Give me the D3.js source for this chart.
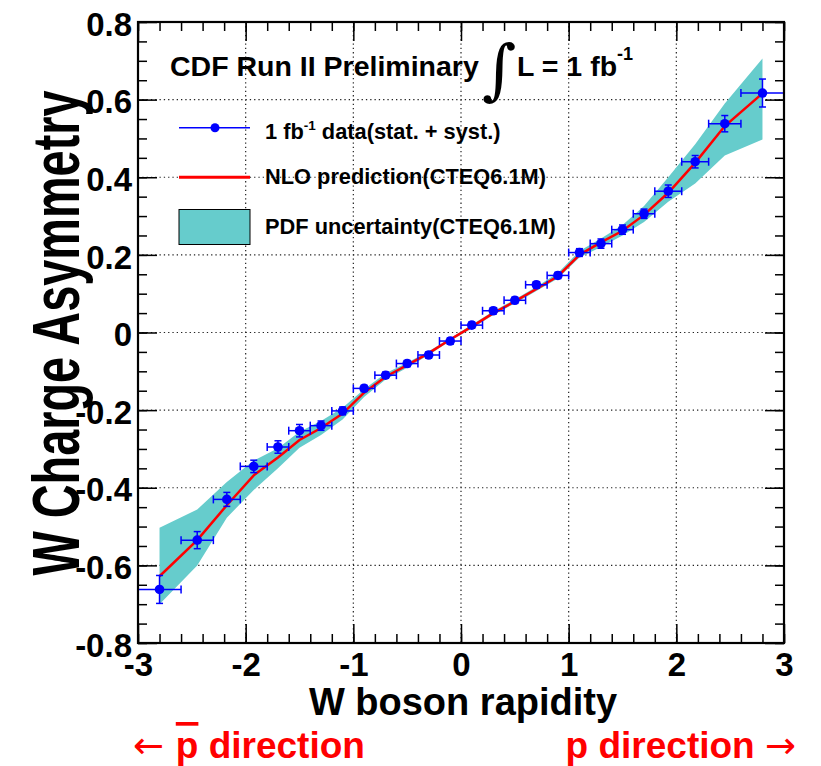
<!DOCTYPE html>
<html>
<head>
<meta charset="utf-8">
<script src="https://d3js.org/d3.v7.min.js"></script>
<style>
  body { margin: 0; background: #fff; }
  svg text { font-family: "Liberation Sans", Arial, sans-serif; font-weight: bold; }
</style>
</head>
<body>
<svg id="chart" width="821" height="766"></svg>
<script>
// bin centres and half widths (W rapidity)
var binCenter = [-2.8, -2.45, -2.175, -1.925, -1.7, -1.5, -1.3, -1.1, -0.9, -0.7, -0.5, -0.3, -0.1,
                 0.1, 0.3, 0.5, 0.7, 0.9, 1.1, 1.3, 1.5, 1.7, 1.925, 2.175, 2.45, 2.8];
var binHalf = [0.2, 0.15, 0.125, 0.125, 0.1, 0.1, 0.1, 0.1, 0.1, 0.1, 0.1, 0.1, 0.1,
               0.1, 0.1, 0.1, 0.1, 0.1, 0.1, 0.1, 0.1, 0.1, 0.125, 0.125, 0.15, 0.2];
// measured asymmetry and error
var dataAsym = [-0.662, -0.535, -0.430, -0.345, -0.295, -0.253, -0.240, -0.202, -0.144, -0.110, -0.080, -0.058, -0.022,
                0.019, 0.056, 0.083, 0.123, 0.147, 0.206, 0.229, 0.265, 0.306, 0.364, 0.440, 0.538, 0.617];
var dataErr = [0.036, 0.022, 0.018, 0.016, 0.016, 0.016, 0.012, 0.010, 0.008, 0.008, 0.008, 0.008, 0.008,
               0.008, 0.008, 0.008, 0.008, 0.008, 0.010, 0.012, 0.012, 0.012, 0.016, 0.016, 0.021, 0.036];
// NLO prediction and PDF band
var nloPred = [-0.628, -0.535, -0.445, -0.368, -0.322, -0.277, -0.246, -0.209, -0.155, -0.114, -0.084, -0.053, -0.018,
               0.015, 0.050, 0.080, 0.112, 0.145, 0.200, 0.232, 0.262, 0.303, 0.360, 0.437, 0.532, 0.616];
var pdfUp = [-0.503, -0.456, -0.385, -0.330, -0.298, -0.256, -0.228, -0.194, -0.146, -0.105, -0.078, -0.048, -0.015,
             0.020, 0.055, 0.085, 0.118, 0.153, 0.210, 0.242, 0.277, 0.326, 0.400, 0.485, 0.590, 0.706];
var pdfLow = [-0.700, -0.600, -0.477, -0.406, -0.350, -0.297, -0.264, -0.224, -0.166, -0.121, -0.091, -0.058, -0.022,
              0.010, 0.045, 0.075, 0.107, 0.139, 0.193, 0.220, 0.250, 0.285, 0.337, 0.384, 0.456, 0.497];

var xMajor = [-3, -2, -1, 0, 1, 2, 3];
var yMajor = [-0.8, -0.6, -0.4, -0.2, 0, 0.2, 0.4, 0.6, 0.8];

var L = 138, R = 784, T = 22, B = 643;
var svg = d3.select('#chart');

var x = d3.scaleLinear().domain([-3, 3]).range([L, R]);
var y = d3.scaleLinear().domain([-0.8, 0.8]).range([B, T]);

var xMinor = d3.range(-3, 3.001, 0.2).map(function(d){ return +d.toFixed(2); });
var yMinor = d3.range(-0.8, 0.8001, 0.05).map(function(d){ return +d.toFixed(3); });

var fmtY = function(d){ return d === 0 ? '0' : d.toFixed(1); };
var fmtX = function(d){ return String(d); };

// dotted grid
var gridX = [-2, -1, 0, 1, 2], gridY = [-0.6, -0.4, -0.2, 0, 0.2, 0.4, 0.6];
svg.append('g').selectAll('line').data(gridX).enter().append('line')
  .attr('x1', function(d){ return x(d); }).attr('x2', function(d){ return x(d); })
  .attr('y1', T).attr('y2', B)
  .attr('stroke', '#222').attr('stroke-width', 1.2).attr('stroke-dasharray', '1.3,3');
svg.append('g').selectAll('line').data(gridY).enter().append('line')
  .attr('y1', function(d){ return y(d); }).attr('y2', function(d){ return y(d); })
  .attr('x1', L).attr('x2', R)
  .attr('stroke', '#222').attr('stroke-width', 1.2).attr('stroke-dasharray', '1.3,3');

var idx = d3.range(binCenter.length);

// PDF band
var band = d3.area()
  .x(function(i){ return x(binCenter[i]); })
  .y0(function(i){ return y(pdfLow[i]); })
  .y1(function(i){ return y(pdfUp[i]); });
svg.append('path').datum(idx).attr('d', band).attr('fill', '#66cccc');

// NLO line
var line = d3.line()
  .x(function(i){ return x(binCenter[i]); })
  .y(function(i){ return y(nloPred[i]); });
svg.append('path').datum(idx).attr('d', line)
  .attr('fill', 'none').attr('stroke', '#ff0000').attr('stroke-width', 2.5);

// data with error bars
var pts = svg.append('g').selectAll('g').data(idx).enter().append('g')
  .attr('stroke', '#0000ff').attr('stroke-width', 1.5);
pts.append('line')
  .attr('x1', function(i){ return x(binCenter[i] - binHalf[i]); })
  .attr('x2', function(i){ return x(binCenter[i] + binHalf[i]); })
  .attr('y1', function(i){ return y(dataAsym[i]); })
  .attr('y2', function(i){ return y(dataAsym[i]); });
pts.append('line')
  .attr('x1', function(i){ return x(binCenter[i]); })
  .attr('x2', function(i){ return x(binCenter[i]); })
  .attr('y1', function(i){ return y(dataAsym[i] - dataErr[i]); })
  .attr('y2', function(i){ return y(dataAsym[i] + dataErr[i]); });
[-1, 1].forEach(function(s){
  pts.append('line')
    .attr('x1', function(i){ return x(binCenter[i] + s * binHalf[i]); })
    .attr('x2', function(i){ return x(binCenter[i] + s * binHalf[i]); })
    .attr('y1', function(i){ return y(dataAsym[i]) - 4; })
    .attr('y2', function(i){ return y(dataAsym[i]) + 4; });
  pts.append('line')
    .attr('x1', function(i){ return x(binCenter[i]) - 3.5; })
    .attr('x2', function(i){ return x(binCenter[i]) + 3.5; })
    .attr('y1', function(i){ return y(dataAsym[i] + s * dataErr[i]); })
    .attr('y2', function(i){ return y(dataAsym[i] + s * dataErr[i]); });
});
pts.append('circle')
  .attr('cx', function(i){ return x(binCenter[i]); })
  .attr('cy', function(i){ return y(dataAsym[i]); })
  .attr('r', 4.8).attr('fill', '#0000ff').attr('stroke', 'none');

// axes, ticks inside (ROOT style)
function styleAxis(g) {
  g.select('.domain').remove();
  g.selectAll('.tick line').attr('stroke', '#000').attr('stroke-width', 1.5);
  g.selectAll('.tick text').attr('fill', '#000')
    .style('font-family', '"Liberation Sans", Arial, sans-serif').style('font-weight', 'bold');
}
svg.append('g').attr('transform', 'translate(0,' + B + ')')
  .call(d3.axisBottom(x).tickValues(xMinor).tickSize(-9).tickFormat(''))
  .call(styleAxis);
svg.append('g').attr('transform', 'translate(0,' + B + ')')
  .call(d3.axisBottom(x).tickValues(xMajor).tickSize(-19).tickPadding(9).tickFormat(fmtX))
  .call(styleAxis)
  .selectAll('text').attr('font-size', 33).attr('dy', '0.72em');
svg.append('g').attr('transform', 'translate(0,' + T + ')')
  .call(d3.axisTop(x).tickValues(xMinor).tickSize(-9).tickFormat(''))
  .call(styleAxis);
svg.append('g').attr('transform', 'translate(0,' + T + ')')
  .call(d3.axisTop(x).tickValues(xMajor).tickSize(-19).tickFormat(''))
  .call(styleAxis);
svg.append('g').attr('transform', 'translate(' + L + ',0)')
  .call(d3.axisLeft(y).tickValues(yMinor).tickSize(-9).tickFormat(''))
  .call(styleAxis);
svg.append('g').attr('transform', 'translate(' + L + ',0)')
  .call(d3.axisLeft(y).tickValues(yMajor).tickSize(-19).tickPadding(6).tickFormat(fmtY))
  .call(styleAxis)
  .selectAll('text').attr('font-size', 33).attr('dy', '0.4em');
svg.append('g').attr('transform', 'translate(' + R + ',0)')
  .call(d3.axisRight(y).tickValues(yMinor).tickSize(-9).tickFormat(''))
  .call(styleAxis);
svg.append('g').attr('transform', 'translate(' + R + ',0)')
  .call(d3.axisRight(y).tickValues(yMajor).tickSize(-19).tickFormat(''))
  .call(styleAxis);

// frame
svg.append('rect').attr('x', L).attr('y', T).attr('width', R - L).attr('height', B - T)
  .attr('fill', 'none').attr('stroke', '#000').attr('stroke-width', 2.2);

// title
svg.append('text').attr('x', 170).attr('y', 76).attr('font-size', 28.5).attr('fill', '#000')
  .text('CDF Run II Preliminary');
svg.append('text').attr('x', 482).attr('y', 92).attr('font-size', 66)
  .style('font-family', '"DejaVu Serif", serif').style('font-weight', 'normal').text('\u222B');
var lum = svg.append('text').attr('x', 517).attr('y', 76).attr('font-size', 28.5).attr('fill', '#000');
lum.append('tspan').text('L = 1 fb');
lum.append('tspan').attr('font-size', 18).attr('dy', -16).text('-1');

// legend
var lg = svg.append('g');
lg.append('line').attr('x1', 179).attr('x2', 250).attr('y1', 127.7).attr('y2', 127.7)
  .attr('stroke', '#0000ff').attr('stroke-width', 1.5);
lg.append('circle').attr('cx', 215).attr('cy', 127.7).attr('r', 4.5).attr('fill', '#0000ff');
var t1 = lg.append('text').attr('x', 265).attr('y', 139).attr('font-size', 21.8);
t1.append('tspan').text('1 fb');
t1.append('tspan').attr('font-size', 13.5).attr('dy', -9).text('-1');
t1.append('tspan').attr('dy', 9).text(' data(stat. + syst.)');
lg.append('line').attr('x1', 179).attr('x2', 250).attr('y1', 177.3).attr('y2', 177.3)
  .attr('stroke', '#ff0000').attr('stroke-width', 3);
lg.append('text').attr('x', 265).attr('y', 184).attr('font-size', 21.8).text('NLO prediction(CTEQ6.1M)');
lg.append('rect').attr('x', 179).attr('y', 209.5).attr('width', 71).attr('height', 35)
  .attr('fill', '#66cccc').attr('stroke', '#000').attr('stroke-width', 1);
lg.append('text').attr('x', 265).attr('y', 233.5).attr('font-size', 21.8).text('PDF uncertainty(CTEQ6.1M)');

// axis titles
svg.append('text').attr('x', (L + R) / 2 + 2).attr('y', 715).attr('text-anchor', 'middle')
  .attr('font-size', 38).text('W boson rapidity');
svg.append('text').attr('transform', 'translate(79,333) rotate(-90)').attr('text-anchor', 'middle')
  .attr('font-size', 66).attr('textLength', 485).attr('lengthAdjust', 'spacingAndGlyphs')
  .text('W Charge Asymmetry');

// direction labels
var dl = svg.append('text').attr('x', 133).attr('y', 758).attr('font-size', 37).attr('fill', '#ff0000');
dl.append('tspan').style('font-family', '"DejaVu Sans", sans-serif').style('font-weight', 'normal').text('\u2190 ');
dl.append('tspan').style('text-decoration', 'overline').text('p');
dl.append('tspan').text(' direction');
var dr = svg.append('text').attr('x', 796).attr('y', 758).attr('font-size', 37).attr('fill', '#ff0000')
  .attr('text-anchor', 'end');
dr.append('tspan').text('p direction ');
dr.append('tspan').style('font-family', '"DejaVu Sans", sans-serif').style('font-weight', 'normal').text('\u2192');
</script>
</body>
</html>
